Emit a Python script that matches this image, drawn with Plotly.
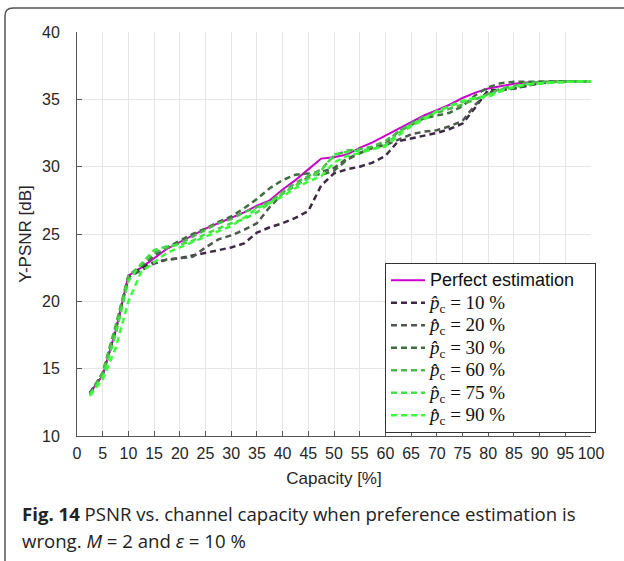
import plotly.graph_objects as go

# ---- data ----
capacity = [2.5, 5, 7.5, 10, 12.5, 15, 17.5, 20, 22.5, 25, 27.5, 30, 32.5, 35, 37.5, 40,
            42.5, 45, 47.5, 50, 52.5, 55, 57.5, 60, 62.5, 65, 67.5, 70, 72.5, 75, 77.5, 80,
            82.5, 85, 87.5, 90, 92.5, 95, 97.5, 100]

perfect = [13.2, 14.5, 17.8, 21.9, 22.5, 23.2, 23.9, 24.4, 24.9, 25.4, 25.8, 26.2, 26.6, 27.1, 27.5, 28.3,
           29.0, 29.8, 30.6, 30.7, 30.9, 31.4, 31.8, 32.3, 32.8, 33.3, 33.8, 34.2, 34.6, 35.1, 35.5, 35.8,
           36.0, 36.15, 36.25, 36.3, 36.3, 36.35, 36.35, 36.35]

p10 = [13.2, 14.6, 17.8, 21.8, 22.5, 22.9, 23.1, 23.2, 23.4, 23.6, 23.8, 24.0, 24.3, 25.1, 25.5, 25.8,
       26.2, 26.7, 28.6, 29.5, 29.8, 30.0, 30.3, 30.8, 31.9, 32.1, 32.3, 32.5, 32.8, 33.2, 34.4, 35.7,
       35.7, 35.8, 36.0, 36.2, 36.3, 36.35, 36.35, 36.35]

p20 = [13.2, 14.6, 17.9, 21.8, 22.3, 22.8, 23.1, 23.2, 23.3, 24.0, 24.6, 24.9, 25.3, 25.8, 27.0, 28.0,
       28.6, 29.2, 29.6, 29.9, 30.6, 31.0, 31.4, 31.6, 32.0, 32.4, 32.6, 32.7, 33.0, 33.4, 34.6, 35.5,
       35.7, 35.8, 36.0, 36.2, 36.3, 36.35, 36.35, 36.35]

p30 = [13.1, 14.7, 18.0, 21.9, 22.6, 23.4, 24.0, 24.5, 25.0, 25.4, 25.9, 26.3, 26.9, 27.6, 28.4, 29.0,
       29.4, 29.5, 29.4, 29.7, 30.5, 31.0, 31.4, 31.7, 32.6, 33.1, 33.6, 33.8, 34.0, 34.5, 35.3, 35.9,
       36.2, 36.3, 36.3, 36.3, 36.3, 36.35, 36.35, 36.35]

p60 = [13.1, 14.7, 18.2, 21.9, 22.7, 23.6, 24.0, 24.3, 24.8, 25.3, 25.8, 26.1, 26.6, 27.0, 27.4, 28.1,
       28.8, 29.3, 29.8, 30.8, 31.2, 31.3, 31.5, 31.9, 32.6, 33.2, 33.7, 34.0, 34.3, 34.6, 35.0, 35.4,
       35.8, 36.0, 36.2, 36.3, 36.3, 36.35, 36.35, 36.35]

p75 = [13.0, 14.4, 17.5, 21.5, 22.8, 23.8, 24.1, 24.2, 24.5, 25.0, 25.4, 25.8, 26.1, 26.6, 27.3, 28.0,
       28.6, 29.1, 29.7, 30.9, 31.1, 31.2, 31.3, 31.6, 32.5, 33.1, 33.6, 34.1, 34.5, 34.8, 35.1, 35.3,
       35.7, 35.9, 36.1, 36.2, 36.25, 36.3, 36.35, 36.35]

p90 = [13.0, 14.2, 16.5, 20.0, 22.2, 22.9, 23.6, 24.0, 24.4, 24.8, 25.2, 25.6, 26.2, 26.9, 27.3, 27.8,
       28.4, 28.9, 29.3, 30.3, 30.8, 31.0, 31.3, 31.5, 32.3, 33.0, 33.5, 34.1, 34.5, 34.9, 35.1, 35.2,
       35.6, 35.9, 36.1, 36.2, 36.25, 36.3, 36.35, 36.35]

series_labels = ["10", "20", "30", "60", "75", "90"]
series_values = [p10, p20, p30, p60, p75, p90]
series_colors = ["#3d2a45", "#4d5a4d", "#3e6e3e", "#4cb84c", "#44e044", "#3cff3c"]

x_ticks = list(range(0, 101, 5))
y_ticks = list(range(10, 41, 5))

# ---- figure ----
W, H = 624, 561
L, R, T, B = 77, 33, 32, 125
pw, ph = W - L - R, H - T - B

def px_x(px):
    return (px - L) / pw

def px_y(py):
    return (H - B - py) / ph

SANS = "Liberation Sans"
fig = go.Figure()
fig.add_trace(go.Scatter(
    x=capacity, y=perfect, mode="lines",
    name="<span style='font-family:Liberation Sans;font-size:18px'>Perfect estimation\u00a0\u00a0\u00a0</span>",
    line=dict(color="#cc00cc", width=2)))
for lab, vals, col in zip(series_labels, series_values, series_colors):
    fig.add_trace(go.Scatter(
        x=capacity, y=vals, mode="lines",
        name="<span style='font-family:Liberation Serif;font-size:19px'><i>p̂</i><sub>c</sub> = "
             + lab + " %</span>",
        line=dict(color=col, width=2.5, dash="6px,4px")))

axis_common = dict(
    showgrid=True, gridcolor="#e6e6e6", gridwidth=1,
    showline=True, linecolor="#555555", linewidth=1,
    ticks="inside", ticklen=5, tickcolor="#555555",
    tickfont=dict(family=SANS, size=16, color="#262626"),
    zeroline=False, mirror=False,
)

fig.update_xaxes(range=[0, 100], tickvals=x_ticks, ticktext=[str(v) for v in x_ticks],
                 title=dict(text="Capacity [%]", font=dict(family=SANS, size=17, color="#262626"),
                            standoff=10),
                 ticklabelstandoff=3,
                 **axis_common)
fig.update_yaxes(range=[10, 40], tickvals=y_ticks, ticktext=[str(v) for v in y_ticks],
                 title=dict(text="Y-PSNR [dB]", font=dict(family=SANS, size=17, color="#262626"),
                            standoff=6),
                 ticklabelstandoff=13,
                 **axis_common)

fig.update_layout(
    width=W, height=H,
    margin=dict(l=L, r=R, t=T, b=B),
    paper_bgcolor="white", plot_bgcolor="white",
    showlegend=True,
    legend=dict(
        x=px_x(596), xanchor="right", y=px_y(263), yanchor="top",
        bgcolor="white", bordercolor="#333333", borderwidth=1,
        font=dict(family=SANS, size=15, color="#111111"),
        itemwidth=34, tracegroupgap=0,
    ),
    shapes=[
        dict(type="path", xref="paper", yref="paper",
             path="M {x0} {y0} L {x0} {y1} Q {x0} {y2} {x1} {y2} L {x3} {y2}".format(
                 x0=px_x(5), y0=px_y(H + 5), y1=px_y(16), y2=px_y(8), x1=px_x(13), x3=px_x(W + 10)),
             line=dict(color="#555555", width=1.5)),
    ],
    annotations=[
        dict(xref="paper", yref="paper", x=px_x(20), y=px_y(513), xanchor="left", yanchor="middle",
             align="left", showarrow=False,
             text="<b>Fig. 14</b> PSNR vs. channel capacity when preference estimation is",
             font=dict(family="Open Sans", size=18.6, color="#222222")),
        dict(xref="paper", yref="paper", x=px_x(20), y=px_y(540), xanchor="left", yanchor="middle",
             align="left", showarrow=False,
             text="wrong. <i>M</i> = 2 and <i>ε</i> = 10 %",
             font=dict(family="Open Sans", size=18.6, color="#222222")),
    ],
)

fig.write_html("out.html", config={"displayModeBar": False},
               post_script="document.body.style.margin='0px';")
